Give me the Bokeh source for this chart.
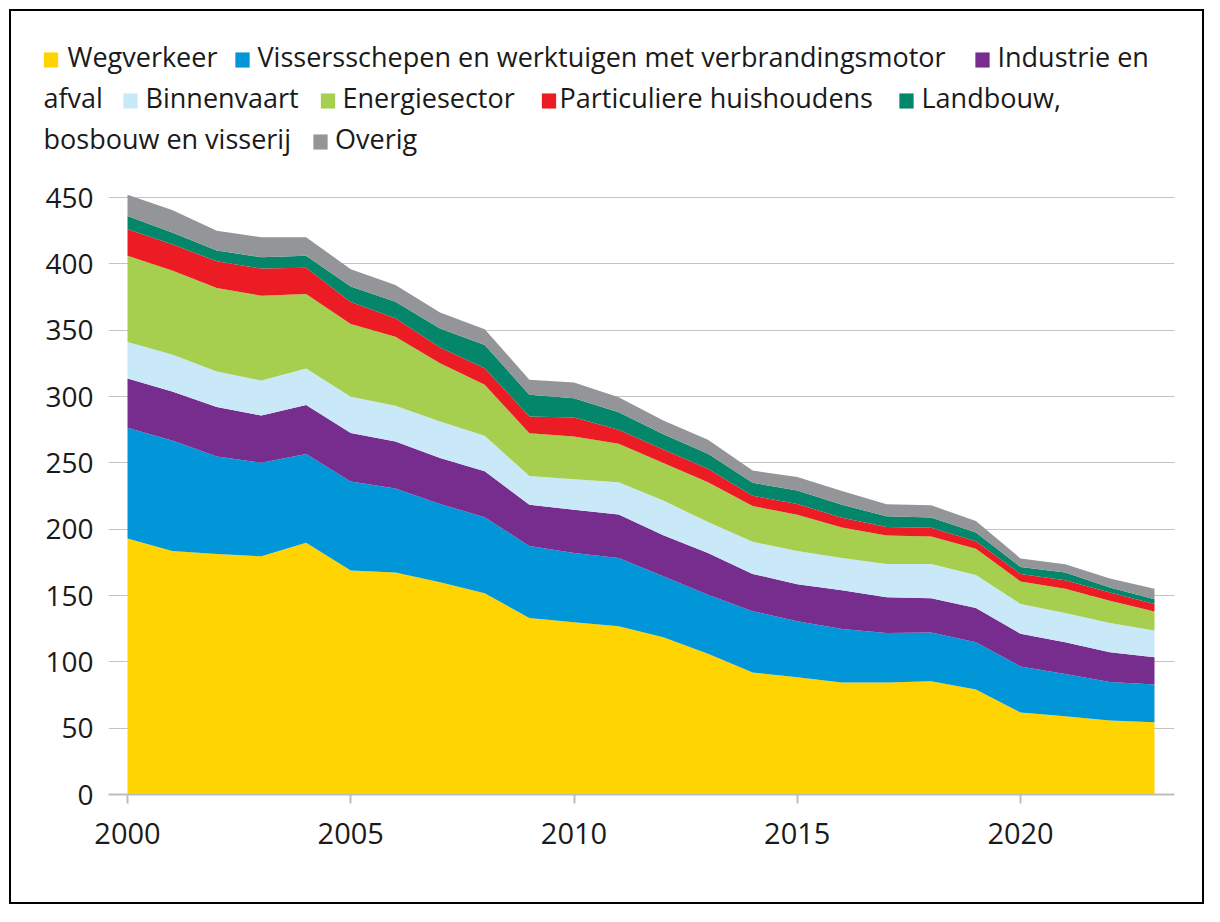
from bokeh.plotting import figure
from bokeh.models import Range1d, FixedTicker, ColumnDataSource
from bokeh.core.properties import value
from bokeh.embed import file_html
from bokeh.resources import INLINE

years = list(range(2000, 2024))

names = [
    "Wegverkeer",
    "Vissersschepen en werktuigen met verbrandingsmotor",
    "Industrie en afval",
    "Binnenvaart",
    "Energiesector",
    "Particuliere huishoudens",
    "Landbouw, bosbouw en visserij",
    "Overig",
]

wegverkeer = [193.0, 183.6, 181.2, 179.6, 189.7, 168.9, 167.4, 160.0, 151.7, 133.0, 129.9, 126.8,
              118.6, 106.0, 91.9, 88.4, 84.4, 84.4, 85.4, 79.1, 61.8, 58.9, 55.8, 54.5]
vissersschepen = [83.5, 83.2, 73.5, 70.4, 67.0, 67.1, 63.3, 59.0, 57.2, 54.3, 52.1, 51.5,
                  45.9, 44.5, 46.3, 42.2, 40.3, 37.3, 36.8, 35.6, 34.7, 31.9, 29.0, 28.4]
industrie = [37.0, 36.9, 37.3, 35.6, 36.9, 36.4, 35.3, 34.6, 34.8, 31.1, 32.7, 32.7,
             31.0, 31.5, 28.1, 27.9, 29.3, 27.0, 25.8, 25.9, 24.6, 23.9, 22.5, 20.6]
binnenvaart = [27.5, 27.9, 26.8, 26.4, 27.5, 27.4, 27.0, 27.6, 26.8, 21.6, 23.0, 24.4,
               26.1, 23.4, 24.2, 25.0, 24.3, 25.0, 25.7, 24.8, 22.5, 22.1, 21.9, 20.1]
energiesector = [65.0, 63.3, 63.0, 64.0, 56.1, 54.9, 52.0, 43.8, 38.3, 32.3, 32.2, 28.9,
                 28.2, 30.0, 26.9, 27.4, 22.9, 21.5, 20.7, 19.8, 17.0, 18.2, 16.8, 14.4]
huishoudens = [20.0, 19.9, 20.1, 20.4, 19.8, 16.6, 14.0, 12.0, 12.5, 12.7, 14.2, 10.7,
               10.2, 10.1, 7.8, 8.1, 7.4, 6.5, 6.6, 5.7, 5.7, 6.5, 6.2, 5.5]
landbouw = [10.0, 8.8, 8.1, 8.6, 9.0, 11.7, 12.5, 14.3, 17.5, 16.4, 14.6, 13.2,
            11.5, 11.4, 9.7, 10.1, 9.8, 8.0, 7.8, 6.6, 5.2, 5.8, 3.8, 3.7]
overig = [16.0, 16.9, 15.0, 15.0, 14.0, 13.0, 12.5, 12.0, 11.8, 11.3, 11.8, 11.3,
          10.5, 10.5, 9.3, 10.2, 10.3, 9.1, 9.2, 8.6, 6.4, 6.2, 6.8, 7.8]

colors = ["#FFD400", "#0096D8", "#762D8E", "#C9E9F9", "#A6CE4F", "#EC1C24", "#03866A", "#939598"]

x_ticks = [2000, 2005, 2010, 2015, 2020]
y_ticks = [0, 50, 100, 150, 200, 250, 300, 350, 400, 450]

FONT = "Open Sans"
TXT = "#1a1a1a"
GRID = "#c4c4c4"

# canvas / frame geometry (pixels)
W, H = 1195, 895
FL, FR, FT, FB = 97, 1163, 179, 783          # frame edges on the canvas
PX_PER_YEAR = 1027 / 23.0
PAD_L, PAD_R = 19, 20                         # gap between frame edge and first/last year
Y_TOP = (FB - FT) / (597 / 450.0)

keys = ["s%d" % i for i in range(len(names))]
src = ColumnDataSource(dict(year=years, **{k: v for k, v in zip(keys, [
    wegverkeer, vissersschepen, industrie, binnenvaart, energiesector, huishoudens, landbouw, overig])}))

p = figure(width=W, height=H, output_backend="svg", toolbar_location=None,
           x_range=Range1d(years[0] - PAD_L / PX_PER_YEAR, years[-1] + PAD_R / PX_PER_YEAR),
           y_range=Range1d(0, Y_TOP),
           min_border_left=FL, min_border_right=W - FR, min_border_top=FT, min_border_bottom=H - FB,
           styles={"border": "2px solid black", "margin": "9px"})
p.varea_stack(stackers=keys, x="year", color=colors, source=src)

p.outline_line_color = None
p.xgrid.grid_line_color = None
p.ygrid.grid_line_color = GRID
p.ygrid.grid_line_width = 1
p.ygrid.ticker = FixedTicker(ticks=y_ticks)

p.xaxis.ticker = FixedTicker(ticks=x_ticks)
p.xaxis.axis_line_color = "#bdbdbd"
p.xaxis.axis_line_width = 2
p.xaxis.major_tick_line_color = "#bdbdbd"
p.xaxis.major_tick_line_width = 2
p.xaxis.major_tick_out = 9
p.xaxis.major_tick_in = 0
p.xaxis.minor_tick_line_color = None
p.xaxis.major_label_standoff = 19
p.xaxis.major_label_text_font = FONT
p.xaxis.major_label_text_font_size = "29px"
p.xaxis.major_label_text_color = TXT

p.yaxis.ticker = FixedTicker(ticks=y_ticks)
p.yaxis.axis_line_color = None
p.yaxis.major_tick_line_color = None
p.yaxis.minor_tick_line_color = None
p.yaxis.major_tick_out = 0
p.yaxis.major_tick_in = 0
p.yaxis.major_label_standoff = 15
p.yaxis.major_label_text_font = FONT
p.yaxis.major_label_text_font_size = "28px"
p.yaxis.major_label_text_color = TXT

# ---------- legend (flowing text, wrapped as in the original) ----------
# pixel ranges so that legend positions are canvas pixels (y downwards)
p.extra_x_ranges = {"px": Range1d(FL, FR)}
p.extra_y_ranges = {"py": Range1d(FB, FT)}

row_base = [45, 86, 127]        # text baselines
row_sq = [48.5, 89.5, 130.5]    # square centres
# (series index, row, square centre x, text x, text)
items = [
    (0, 0, 39.5, 56, names[0]),
    (1, 0, 231, 246, names[1]),
    (2, 0, 971, 986, "Industrie en"),
    (None, 1, None, 32, "afval"),
    (3, 1, 119, 134, names[3]),
    (4, 1, 316.5, 331, names[4]),
    (5, 1, 537.5, 548, names[5]),
    (6, 1, 895, 910, "Landbouw,"),
    (None, 2, None, 32, "bosbouw en visserij"),
    (7, 2, 309, 323.5, names[7]),
]
sx_, sy_, sc_ = [], [], []
tx, ty, tt = [], [], []
for idx, row, sx, xt, t in items:
    if idx is not None:
        sx_.append(sx); sy_.append(row_sq[row]); sc_.append(colors[idx])
    tx.append(xt); ty.append(row_base[row]); tt.append(t)

# colour squares: tiny blank text glyphs with a padded filled background
p.text(x=sx_, y=sy_, text=[" "] * len(sx_), text_font_size=value("1px"),
       text_align="center", text_baseline="middle", padding=7,
       background_fill_color=sc_, background_fill_alpha=1.0,
       x_range_name="px", y_range_name="py", level="overlay")

p.text(x=tx, y=ty, text=tt, text_font=value(FONT), text_font_size=value("27px"),
       text_color=TXT, text_baseline="alphabetic", text_align="left",
       x_range_name="px", y_range_name="py", level="overlay")

open("out.html", "w").write(file_html(p, INLINE))
